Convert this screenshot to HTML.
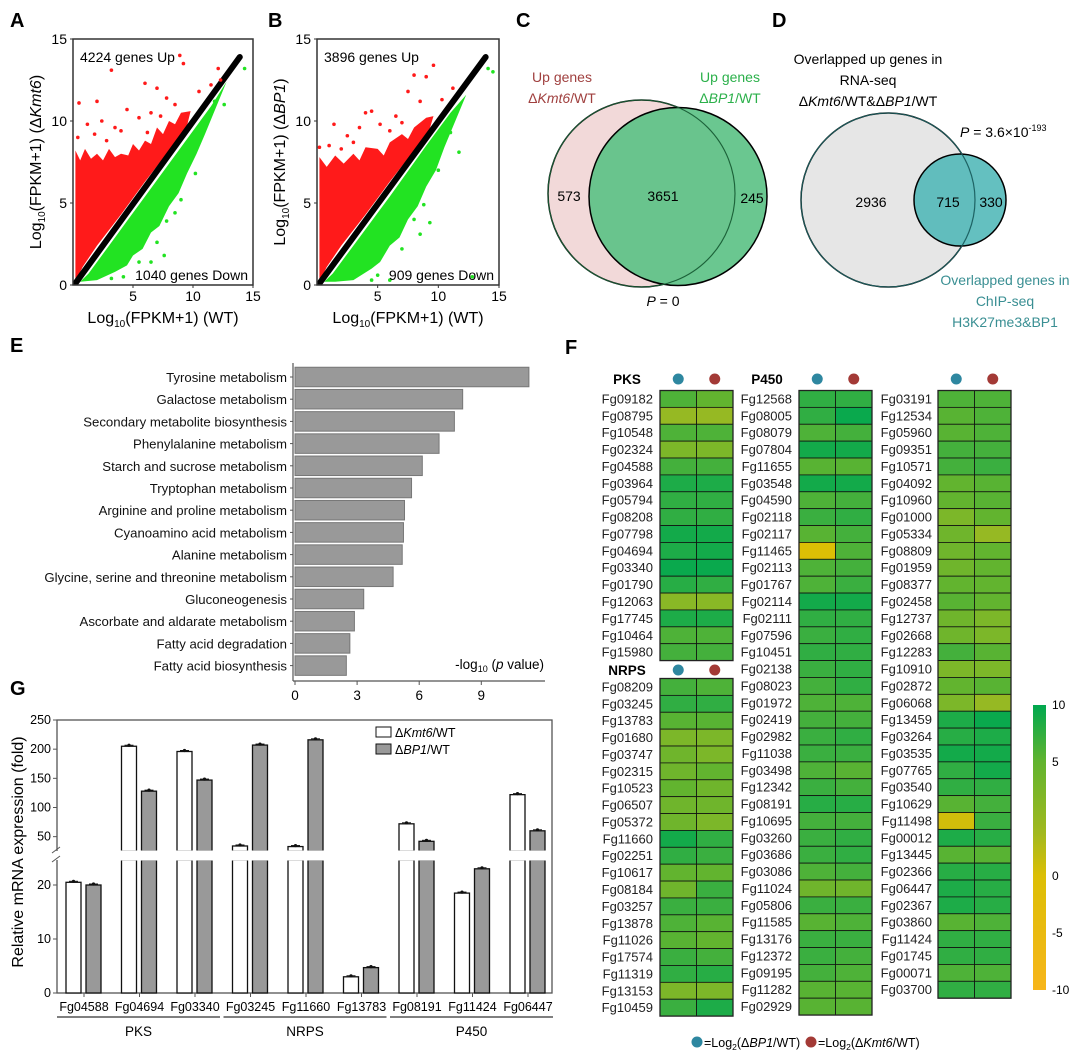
<!DOCTYPE html>
<html><head><meta charset="utf-8">
<style>
html,body{margin:0;padding:0;background:#fff;}
svg{display:block;font-family:"Liberation Sans",Arial,sans-serif;}
</style></head>
<body>
<svg id="fig" width="1080" height="1059" viewBox="0 0 1080 1059" xmlns="http://www.w3.org/2000/svg">
<defs>
<linearGradient id="cbar" x1="0" y1="0" x2="0" y2="1">
<stop offset="0" stop-color="#00a84f"/><stop offset="0.2" stop-color="#62b42f"/><stop offset="0.45" stop-color="#a2b91e"/><stop offset="0.6" stop-color="#dcbf05"/><stop offset="1" stop-color="#f7b51a"/>
</linearGradient>
<clipPath id="clipA"><rect x="73" y="39" width="180" height="246"/></clipPath>
<clipPath id="clipB"><rect x="317" y="39" width="182" height="246"/></clipPath>
</defs>

<g font-weight="bold" font-size="20" fill="#000">
<text x="10" y="27">A</text>
<text x="268" y="27">B</text>
<text x="516" y="27">C</text>
<text x="772" y="27">D</text>
<text x="10" y="352">E</text>
<text x="565" y="354">F</text>
<text x="10" y="695">G</text>
</g>

<g id="scatterA"></g>
<g id="scatterB"></g>

<g font-size="14">
<circle cx="641.5" cy="193.5" r="93.5" fill="#f2d9d9" stroke="#000" stroke-width="1.5"/>
<circle cx="678" cy="196.5" r="89" fill="#5dc287" fill-opacity="0.92" stroke="#000" stroke-width="1.5"/>
<circle cx="641.5" cy="193.5" r="93.5" fill="none" stroke="#1b5e37" stroke-width="1"/>
<text x="562" y="82" text-anchor="middle" fill="#a0403f">Up genes</text>
<text x="562" y="103" text-anchor="middle" fill="#a0403f">Δ<tspan font-style="italic">Kmt6</tspan>/WT</text>
<text x="730" y="82" text-anchor="middle" fill="#2bb04a">Up genes</text>
<text x="730" y="103" text-anchor="middle" fill="#2bb04a">Δ<tspan font-style="italic">BP1</tspan>/WT</text>
<text x="569" y="201" text-anchor="middle">573</text>
<text x="663" y="201" text-anchor="middle">3651</text>
<text x="752" y="203" text-anchor="middle">245</text>
<text x="663" y="306" text-anchor="middle"><tspan font-style="italic">P</tspan> = 0</text>
</g>

<g font-size="14">
<circle cx="888" cy="200" r="87" fill="#e6e6e6" stroke="#000" stroke-width="1.5"/>
<circle cx="960" cy="200" r="46" fill="#4fb7b7" fill-opacity="0.88" stroke="#000" stroke-width="1.5"/>
<circle cx="888" cy="200" r="87" fill="none" stroke="#1d5f60" stroke-width="1"/>
<text x="868" y="64" text-anchor="middle">Overlapped up genes in</text>
<text x="868" y="85" text-anchor="middle">RNA-seq</text>
<text x="868" y="106" text-anchor="middle">Δ<tspan font-style="italic">Kmt6</tspan>/WT&amp;Δ<tspan font-style="italic">BP1</tspan>/WT</text>
<text x="871" y="207" text-anchor="middle">2936</text>
<text x="948" y="207" text-anchor="middle">715</text>
<text x="991" y="207" text-anchor="middle">330</text>
<text x="960" y="137"><tspan font-style="italic">P</tspan> = 3.6×10<tspan font-size="9" dy="-6">-193</tspan></text>
<g fill="#3a8f93">
<text x="1005" y="285" text-anchor="middle">Overlapped genes in</text>
<text x="1005" y="306" text-anchor="middle">ChIP-seq</text>
<text x="1005" y="327" text-anchor="middle">H3K27me3&amp;BP1</text>
</g>
</g>

<g id="panelE"></g>
<g id="panelG"></g>
<g id="panelF"></g>
</svg>

<script>
const eCategories = ["Tyrosine metabolism","Galactose metabolism","Secondary metabolite biosynthesis","Phenylalanine metabolism","Starch and sucrose metabolism","Tryptophan metabolism","Arginine and proline metabolism","Cyanoamino acid metabolism","Alanine metabolism","Glycine, serine and threonine metabolism","Gluconeogenesis","Ascorbate and aldarate metabolism","Fatty acid degradation","Fatty acid biosynthesis"];
const eValues = [11.3,8.1,7.7,6.96,6.15,5.63,5.29,5.24,5.18,4.74,3.32,2.87,2.65,2.48];
const eTicks = [0,3,6,9];

const gGenes = ["Fg04588","Fg04694","Fg03340","Fg03245","Fg11660","Fg13783","Fg08191","Fg11424","Fg06447"];
const gKmt6 = [20.5,205,196,34,33,3,72,18.5,122];
const gBP1 = [20,128,147,207,216,4.7,42,23,60];
const gTicksUpper = [50,100,150,200,250];
const gTicksLower = [0,10,20];
const gGroups = ["PKS","NRPS","P450"];

const pksGenes = ["Fg09182","Fg08795","Fg10548","Fg02324","Fg04588","Fg03964","Fg05794","Fg08208","Fg07798","Fg04694","Fg03340","Fg01790","Fg12063","Fg17745","Fg10464","Fg15980"];
const pksBP1 = [6,3,6,4,6.5,8.5,7.5,7.5,9,8.5,9.5,8,3.5,8.5,6,6.5];
const pksKmt6 = [5,3,6,4,6.5,8.5,7.5,7.5,9,9,9.5,7.5,3.5,8.5,6,6.5];
const nrpsGenes = ["Fg08209","Fg03245","Fg13783","Fg01680","Fg03747","Fg02315","Fg10523","Fg06507","Fg05372","Fg11660","Fg02251","Fg10617","Fg08184","Fg03257","Fg13878","Fg11026","Fg17574","Fg11319","Fg13153","Fg10459"];
const nrpsBP1 = [6.5,7.5,5.5,4,4.5,4.5,5,4.5,4.5,9,7.5,5,4.5,7,6,5.5,7,7.5,4,7];
const nrpsKmt6 = [6,7.5,5.5,4,4,5,4.5,4.5,4,7.5,7,5,7,7,5.5,5,6.5,8,4,8.5];
const p450Genes = ["Fg12568","Fg08005","Fg08079","Fg07804","Fg11655","Fg03548","Fg04590","Fg02118","Fg02117","Fg11465","Fg02113","Fg01767","Fg02114","Fg02111","Fg07596","Fg10451","Fg02138","Fg08023","Fg01972","Fg02419","Fg02982","Fg11038","Fg03498","Fg12342","Fg08191","Fg10695","Fg03260","Fg03686","Fg03086","Fg11024","Fg05806","Fg11585","Fg13176","Fg12372","Fg09195","Fg11282","Fg02929"];
const p450BP1 = [7.5,7.5,6,9,5.5,9,6,7,5.5,0,6,6,9,7.5,7,7.5,7,6.5,6,6.5,7,7,6,7,8,6.5,7,7,6,4.5,7,5.5,7,7,6.5,5.5,5.5];
const p450Kmt6 = [7.5,9.5,6.5,9,5.5,9,6.5,7.5,6.5,6,6.5,7,9,7.5,7.5,7.5,7.5,7.5,6,6.5,7.5,7,5.5,6.5,8,6.5,7.5,7.5,6.5,4.5,7,6,7,6.5,6,5.5,5.5];
const thirdGenes = ["Fg03191","Fg12534","Fg05960","Fg09351","Fg10571","Fg04092","Fg10960","Fg01000","Fg05334","Fg08809","Fg01959","Fg08377","Fg02458","Fg12737","Fg02668","Fg12283","Fg10910","Fg02872","Fg06068","Fg13459","Fg03264","Fg03535","Fg07765","Fg03540","Fg10629","Fg11498","Fg00012","Fg13445","Fg02366","Fg06447","Fg02367","Fg03860","Fg11424","Fg01745","Fg00071","Fg03700"];
const thirdBP1 = [6,5.5,5.5,6.5,6.5,5,5,4,4.5,4.5,4.5,5,5.5,4.5,4.5,6.5,4,5,4,8.5,8,9,7.5,7.5,5.5,0.5,8.5,5.5,8,8.5,8.5,5.5,7.5,7.5,6,7.5];
const thirdKmt6 = [6,6,6,6.5,7,5.5,5.5,5,3,5,5,5,5,4,4,5.5,4,5.5,3,9.5,8.5,9,9,7.5,6.5,7,8,5.5,8,8,8,6,7.5,7.5,6,7.5];
const cbarTicks = ["10","5","0","-5","-10"];

const aRed = [[0.2,0.2],[0.2,8.2],[0.6,7.6],[1,8.3],[1.5,7.7],[2,8.0],[2.5,7.6],[3,8.3],[3.5,7.8],[4,8.0],[4.6,7.9],[5,8.6],[5.5,8.2],[6,8.8],[6.5,8.6],[7,9.6],[7.5,9.2],[8,10.0],[8.5,9.8],[9,10.5],[9.8,10.6],[9.5,9.7],[8,8.2],[6,6.3],[4,4.3],[2,2.4],[0.8,1.1]];
const aGreen = [[0.6,0.2],[2,0.3],[3.5,0.8],[4.5,1.2],[5,1.8],[5.8,2.2],[6.5,3.2],[7.2,3.6],[8,4.8],[8.8,5.6],[9.5,6.8],[10.3,8.0],[11,9.2],[12.8,12.4],[11.5,10.9],[9,8.4],[6,5.4],[3.5,2.9],[1.3,0.7]];
const bRed = [[0.2,0.2],[0.2,7.8],[0.8,7.2],[1.5,7.9],[2.2,7.4],[3,8.0],[3.5,7.6],[4,8.4],[5,8.3],[5.5,7.9],[6,8.7],[7,9.2],[7.5,8.9],[8,9.6],[9,10.2],[9.6,10.3],[9.2,9.3],[8,8.2],[6,6.3],[4,4.3],[2,2.4],[0.8,1.1]];
const bGreen = [[0.6,0.2],[1.5,0.2],[3,0.3],[4.5,1.0],[5.2,1.4],[6,2.4],[6.8,2.9],[7.5,4.0],[8.3,4.8],[9,6.0],[9.8,7.0],[10.5,8.4],[12.3,11.6],[11,10.5],[9,8.5],[6,5.4],[3.5,2.9],[1.3,0.7]];
const aOutRed = [[3.2,13.1],[8.9,14.0],[9.2,13.5],[6,12.3],[7,12.0],[2,11.2],[0.5,11.1],[4.5,10.7],[12.1,13.2],[12.3,12.5],[1.2,9.8],[2.4,10.0],[3.5,9.6],[5.5,10.2],[6.5,10.5],[7.8,11.4],[8.5,11.0],[1.8,9.2],[4,9.4],[10.5,11.8],[11.5,12.2],[0.4,9.0],[2.8,8.8],[6.2,9.3],[7.3,10.3]];
const aOutGreen = [[14.3,13.2],[12.6,11.0],[10.5,9.2],[7.6,1.8],[6.5,1.4],[5.5,1.4],[8.5,4.4],[7.8,3.9],[11.8,11.2],[10.2,6.8],[7,2.6],[9,5.2],[4.2,0.5],[3.2,0.4]];
const bOutRed = [[9.6,13.4],[8,12.8],[9,12.7],[4.5,10.6],[4.0,10.5],[1.4,9.8],[0.2,8.4],[7.5,11.8],[11.2,12.0],[2.5,9.1],[3.5,9.6],[5.2,9.8],[6.5,10.3],[8.5,11.2],[1,8.5],[2,8.3],[3,8.7],[6,9.4],[10.3,11.3],[7,9.9]];
const bOutGreen = [[14.5,13.0],[14.1,13.2],[11.7,8.1],[8.5,3.1],[8,4.0],[4.5,0.3],[6,0.3],[12.8,0.5],[9.3,3.8],[10,7.0],[7,2.2],[5,0.6],[8.8,4.9],[11,9.3]];

const NS = "http://www.w3.org/2000/svg";
function mk(tag, attrs, parent, text){
  const el = document.createElementNS(NS, tag);
  for (const k in attrs) el.setAttribute(k, attrs[k]);
  if (text !== undefined) el.textContent = text;
  parent.appendChild(el);
  return el;
}

function drawScatter(gid, x0, x1, clipId, red, green, outR, outG, upText, downText, ylabel){
  const g = document.getElementById(gid);
  const y0 = 285, ytop = 39;
  const sx = v => x0 + v*(x1-x0)/15;
  const sy = v => y0 - v*(y0-ytop)/15;
  const cg = mk('g', {'clip-path':'url(#'+clipId+')'}, g);
  const rp = mk('polygon', {points: red.map(p=>sx(p[0])+','+sy(p[1])).join(' '), fill:'#ff1a1a'}, cg);
  
  
  const gp = mk('polygon', {points: green.map(p=>sx(p[0])+','+sy(p[1])).join(' '), fill:'#22e322'}, cg);
  
  
  const bl = mk('line', {x1:sx(0.2), y1:sy(0.1), x2:sx(13.9), y2:sy(13.9), stroke:'#000', 'stroke-width':6, 'stroke-linecap':'round'}, cg);
  
  
  outR.forEach(p=>{ const c = mk('circle',{cx:sx(p[0]),cy:sy(p[1]),r:1.8,fill:'#ff1a1a'},cg);
    
     });
  outG.forEach(p=>{ const c = mk('circle',{cx:sx(p[0]),cy:sy(p[1]),r:1.8,fill:'#22e322'},cg);
    
     });
  const box = mk('rect',{x:x0,y:ytop,width:x1-x0,height:y0-ytop,fill:'none',stroke:'#333','stroke-width':1.5},g);
  
  
  [5,10,15].forEach(v=>{
    mk('line',{x1:sx(v),y1:y0,x2:sx(v),y2:y0+3,stroke:'#333'},g);
    const t = mk('text',{x:sx(v),y:y0+16,'text-anchor':'middle','font-size':14},g,String(v));
    
    
  });
  [0,5,10,15].forEach(v=>{
    mk('line',{x1:x0-3,y1:sy(v),x2:x0,y2:sy(v),stroke:'#333'},g);
    const t = mk('text',{x:x0-6,y:sy(v)+5,'text-anchor':'end','font-size':14},g,String(v));
    
    
  });
  const ut = mk('text',{x:x0+7,y:62,'font-size':14},g,upText);
  
  
  const dt = mk('text',{x:x1-5,y:280,'font-size':14,'text-anchor':'end'},g,downText);
  
  
  const xt = mk('text',{x:(x0+x1)/2,y:323,'font-size':16,'text-anchor':'middle'},g);
  xt.innerHTML = 'Log<tspan font-size="10" dy="4">10</tspan><tspan dy="-4">(FPKM+1) (WT)</tspan>';
  
  
  const yx = x0-32, yc = 162;
  const yt = mk('text',{x:yx,y:yc,'font-size':16,'text-anchor':'middle',transform:'rotate(-90 '+yx+' '+yc+')'},g);
  yt.innerHTML = 'Log<tspan font-size="10" dy="4">10</tspan><tspan dy="-4">(FPKM+1) (Δ</tspan><tspan font-style="italic">'+ylabel+'</tspan>)';
  
  
}
drawScatter('scatterA',73,253,'clipA',aRed,aGreen,aOutRed,aOutGreen,'4224 genes Up','1040 genes Down','Kmt6');
drawScatter('scatterB',317,499,'clipB',bRed,bGreen,bOutRed,bOutGreen,'3896 genes Up','909 genes Down','BP1');

(function(){
  const g = document.getElementById('panelE');
  const x0 = 295, ux = 20.7, yFirst = 377, step = 22.2, bh = 19.5, axisY = 681;
  const xs = v => x0 + v*ux;
  mk('line',{x1:293,y1:363,x2:293,y2:axisY,stroke:'#555','stroke-width':1.2},g);
  mk('line',{x1:293,y1:axisY,x2:545,y2:axisY,stroke:'#555','stroke-width':1.2},g);
  eCategories.forEach((c,i)=>{
    const cy = yFirst + i*step;
    const b = mk('rect',{x:x0,y:cy-bh/2,width:xs(eValues[i])-x0,height:bh,fill:'#999',stroke:'#777','stroke-width':1},g);
    
    
    mk('line',{x1:290,y1:cy,x2:293,y2:cy,stroke:'#555'},g);
    const t = mk('text',{x:287,y:cy+5,'text-anchor':'end','font-size':13.2,fill:'#111'},g,c);
    
    
  });
  eTicks.forEach(v=>{
    mk('line',{x1:xs(v),y1:axisY,x2:xs(v),y2:axisY+4,stroke:'#555'},g);
    const t = mk('text',{x:xs(v),y:axisY+19,'text-anchor':'middle','font-size':13.5},g,String(v));
    
    
  });
  const at = mk('text',{x:544,y:669,'text-anchor':'end','font-size':13.5},g);
  at.innerHTML = '-log<tspan font-size="9" dy="3">10</tspan><tspan dy="-3"> (</tspan><tspan font-style="italic">p</tspan> value)';
  
  
})();

(function(){
  const g = document.getElementById('panelG');
  const xL = 57, xR = 552, yB = 993, yT = 720;
  const lowK = 5.4, upBotY = 851, upK = (851-720)/(250-25.4), lowTopY = 860;
  const yLow = v => yB - v*lowK;
  const yUp = v => upBotY - (v-25.4)*upK;
  const cx0 = 83, sp = 55.5;
  const cx = i => cx0 + i*sp;
  mk('rect',{x:xL,y:yT,width:xR-xL,height:yB-yT,fill:'none',stroke:'#555','stroke-width':1.3},g);
  function bar(i, v, off, fill, name){
    const x = cx(i)+off, w = 15;
    const grp = mk('g',{},g);
    
    
    if (v <= 24.6){
      mk('rect',{x:x,y:yLow(v),width:w,height:yB-yLow(v),fill:fill,stroke:'#111','stroke-width':1.3},grp);
      mk('line',{x1:x+3,y1:yLow(v)-1,x2:x+w-3,y2:yLow(v)-1,stroke:'#111','stroke-width':1},grp);
      mk('circle',{cx:x+w/2,cy:yLow(v)-1,r:1.6,fill:'#111'},grp);
    } else {
      mk('rect',{x:x,y:lowTopY,width:w,height:yB-lowTopY,fill:fill,stroke:'#111','stroke-width':1.3},grp);
      mk('rect',{x:x,y:yUp(v),width:w,height:upBotY-yUp(v),fill:fill,stroke:'#111','stroke-width':1.3},grp);
      mk('rect',{x:x-1,y:upBotY-0.5,width:w+2,height:lowTopY-upBotY+1,fill:'#fff'},grp);
      mk('line',{x1:x+3,y1:yUp(v)-1,x2:x+w-3,y2:yUp(v)-1,stroke:'#111','stroke-width':1},grp);
      mk('circle',{cx:x+w/2,cy:yUp(v)-1,r:1.6,fill:'#111'},grp);
    }
  }
  gGenes.forEach((gn,i)=>{
    bar(i, gKmt6[i], -17, '#fff', 'bar-kmt6-'+gn.toLowerCase());
    bar(i, gBP1[i], 3, '#999', 'bar-bp1-'+gn.toLowerCase());
    mk('line',{x1:cx(i)+1,y1:yB,x2:cx(i)+1,y2:yB+4,stroke:'#555'},g);
    const t = mk('text',{x:cx(i)+1,y:1011,'text-anchor':'middle','font-size':12.5},g,gn);
    
    
  });
  mk('rect',{x:xL-4,y:upBotY,width:8,height:lowTopY-upBotY,fill:'#fff'},g);
  mk('line',{x1:xL-5,y1:upBotY+2,x2:xL+3,y2:upBotY-4,stroke:'#555'},g);
  mk('line',{x1:xL-5,y1:lowTopY+2,x2:xL+3,y2:lowTopY-4,stroke:'#555'},g);
  gTicksUpper.forEach(v=>{
    mk('line',{x1:xL-4,y1:yUp(v),x2:xL,y2:yUp(v),stroke:'#555'},g);
    const t = mk('text',{x:xL-6,y:yUp(v)+4,'text-anchor':'end','font-size':12.5},g,String(v));
    
    
  });
  gTicksLower.forEach(v=>{
    mk('line',{x1:xL-4,y1:yLow(v),x2:xL,y2:yLow(v),stroke:'#555'},g);
    const t = mk('text',{x:xL-6,y:yLow(v)+4,'text-anchor':'end','font-size':12.5},g,String(v));
    
    
  });
  const yt = mk('text',{x:23,y:852,'text-anchor':'middle','font-size':16,transform:'rotate(-90 23 852)'},g,'Relative mRNA expression (fold)');
  
  
  gGroups.forEach((gr,k)=>{
    const a = cx(k*3)-26, b = cx(k*3+2)+26;
    mk('line',{x1:a,y1:1017,x2:b,y2:1017,stroke:'#333','stroke-width':1.3},g);
    const t = mk('text',{x:(a+b)/2,y:1036,'text-anchor':'middle','font-size':13.5},g,gr);
    
    
  });
  const lg = mk('g',{},g);
  
  
  mk('rect',{x:376,y:727,width:15,height:10,fill:'#fff',stroke:'#111'},lg);
  mk('rect',{x:376,y:744,width:15,height:10,fill:'#999',stroke:'#111'},lg);
  const l1 = mk('text',{x:395,y:737,'font-size':12.5},lg); l1.innerHTML='Δ<tspan font-style="italic">Kmt6</tspan>/WT';
  const l2 = mk('text',{x:395,y:754,'font-size':12.5},lg); l2.innerHTML='Δ<tspan font-style="italic">BP1</tspan>/WT';
})();

(function(){
  const g = document.getElementById('panelF');
  const stops = [[10,[0,168,79]],[7,[58,175,64]],[5,[98,180,47]],[3,[150,185,35]],[1,[198,189,16]],[0,[220,191,5]],[-10,[245,179,26]]];
  function col(v){
    if (v >= stops[0][0]) return 'rgb('+stops[0][1].join(',')+')';
    for (let i=0;i<stops.length-1;i++){
      const a = stops[i], b = stops[i+1];
      if (v <= a[0] && v >= b[0]){
        const t = (a[0]-v)/(a[0]-b[0]);
        return 'rgb('+a[1].map((c,j)=>Math.round(c+(b[1][j]-c)*t)).join(',')+')';
      }
    }
    return 'rgb('+stops[stops.length-1][1].join(',')+')';
  }
  const rh = 16.88, cw = 36.5;
  function block(genes, v1, v2, gx, top, labelRight, name){
    const bg = mk('g',{},g);
    
    
    genes.forEach((gn,i)=>{
      const y = top + i*rh;
      const c1 = mk('rect',{x:gx,y:y,width:cw,height:rh,fill:col(v1[i]),stroke:'#111','stroke-width':0.8},bg);
      
      
      const c2 = mk('rect',{x:gx+cw,y:y,width:cw,height:rh,fill:col(v2[i]),stroke:'#111','stroke-width':0.8},bg);
      
      
      const t = mk('text',{x:labelRight,y:y+rh/2+4.5,'text-anchor':'end','font-size':13,fill:'#222'},bg,gn);
      
      
    });
    mk('rect',{x:gx,y:top,width:cw*2,height:genes.length*rh,fill:'none',stroke:'#222','stroke-width':1.3},bg);
  }
  function header(text, tx, gx, y){
    if (text){
      const t = mk('text',{x:tx,y:y+5,'text-anchor':'middle','font-size':13.5,'font-weight':'bold'},g,text);
      
      
    }
    const d1 = mk('circle',{cx:gx+cw/2,cy:y,r:5.5,fill:'#2e87a0'},g);
    
    
    const d2 = mk('circle',{cx:gx+cw*1.5,cy:y,r:5.5,fill:'#a33a36'},g);
    
    
  }
  header('PKS', 627, 660, 379);
  block(pksGenes, pksBP1, pksKmt6, 660, 390.5, 653, 'heatmap-pks');
  header('NRPS', 627, 660, 670);
  block(nrpsGenes, nrpsBP1, nrpsKmt6, 660, 678.5, 653, 'heatmap-nrps');
  header('P450', 767, 799, 379);
  block(p450Genes, p450BP1, p450Kmt6, 799, 390.5, 792, 'heatmap-p450');
  header('', 0, 938, 379);
  block(thirdGenes, thirdBP1, thirdKmt6, 938, 390.5, 932, 'heatmap-p450-continued');
  const cb = mk('rect',{x:1033,y:705,width:13,height:285,fill:'url(#cbar)'},g);
  
  
  const cby = [705,762,876,933,990];
  cbarTicks.forEach((t,i)=>{
    const e = mk('text',{x:1052,y:cby[i]+4,'font-size':12},g,t);
    
    
  });
  const l1 = mk('circle',{cx:697,cy:1042,r:5.5,fill:'#2e87a0'},g);
  
  
  const t1 = mk('text',{x:704,y:1047,'font-size':12.5},g);
  t1.innerHTML = '=Log<tspan font-size="8.5" dy="3">2</tspan><tspan dy="-3">(Δ</tspan><tspan font-style="italic">BP1</tspan>/WT)';
  
  
  const l2 = mk('circle',{cx:811,cy:1042,r:5.5,fill:'#a33a36'},g);
  
  
  const t2 = mk('text',{x:818,y:1047,'font-size':12.5},g);
  t2.innerHTML = '=Log<tspan font-size="8.5" dy="3">2</tspan><tspan dy="-3">(Δ</tspan><tspan font-style="italic">Kmt6</tspan>/WT)';
  
  
})();
</script>
</body></html>
